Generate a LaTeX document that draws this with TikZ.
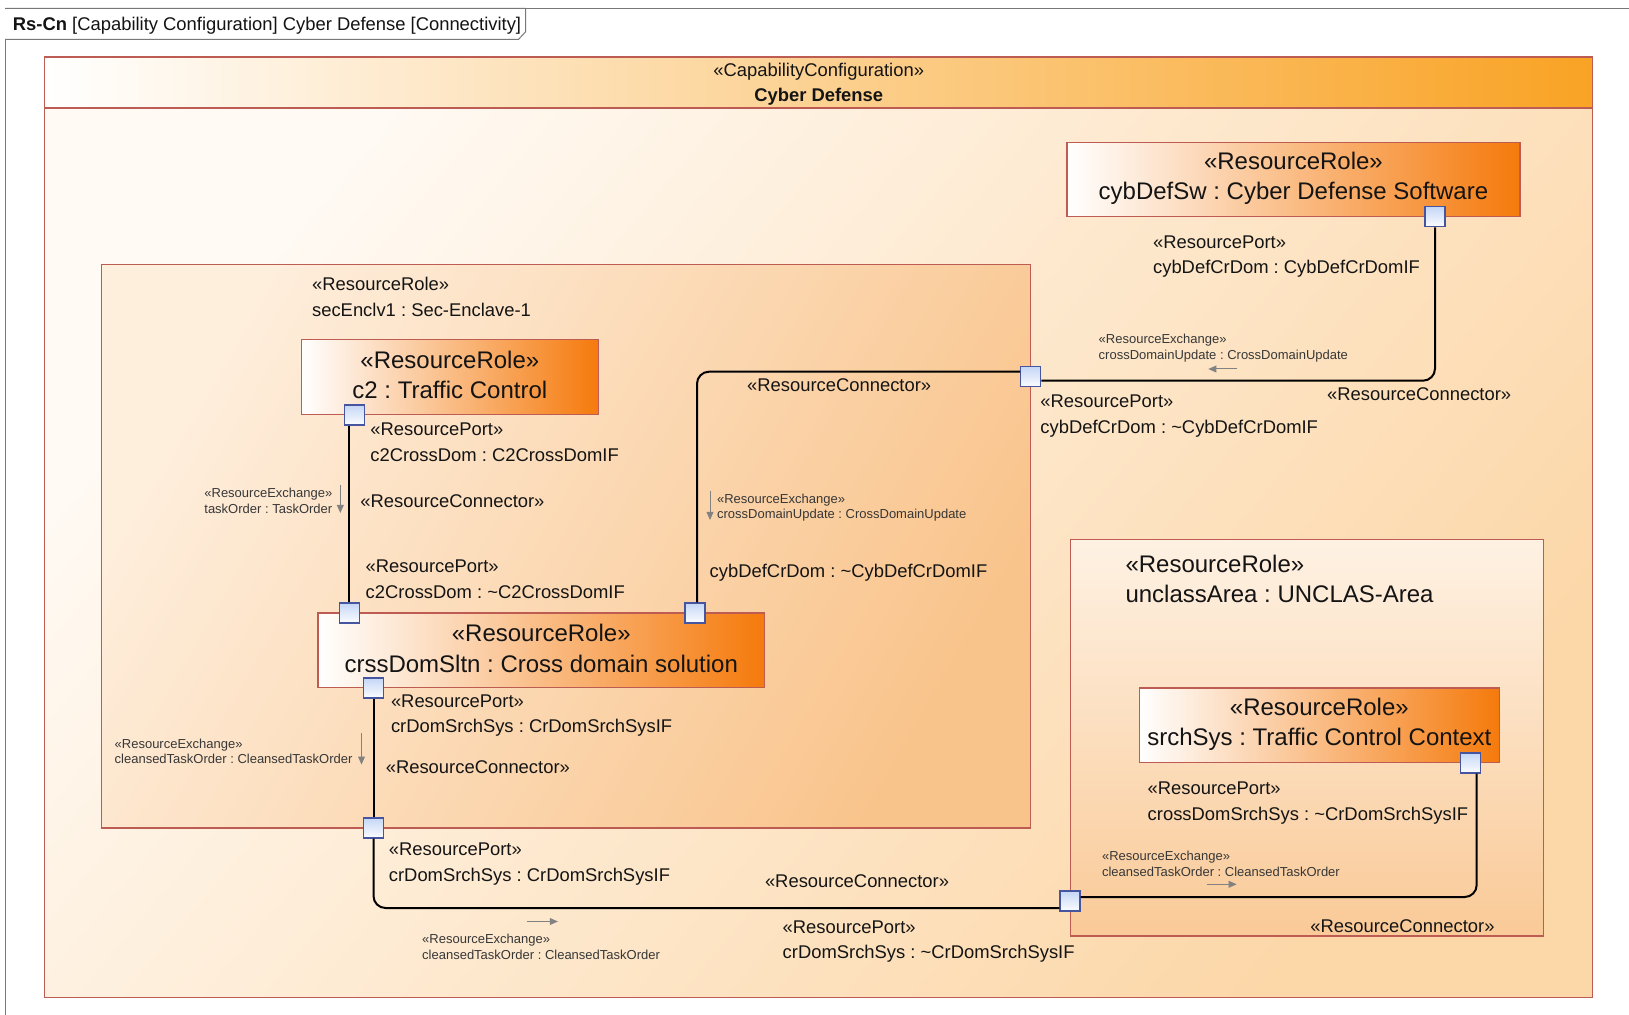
\documentclass[tikz,border=0pt]{standalone}
\usepackage{fontspec}
\setmainfont{Liberation Sans}
\usetikzlibrary{arrows.meta,calc,fit}
\frenchspacing
\definecolor{bord}{RGB}{188,92,82}
\definecolor{rorange}{RGB}{245,122,12}
\definecolor{rmid}{RGB}{251,186,122}
\definecolor{hdrorange}{RGB}{249,163,36}
\definecolor{hdrmid}{RGB}{253,205,140}
\definecolor{capA}{RGB}{255,250,244}
\definecolor{capB}{RGB}{252,215,168}
\definecolor{encA}{RGB}{254,238,220}
\definecolor{encB}{RGB}{249,196,140}
\definecolor{portbd}{RGB}{70,85,160}
\definecolor{portA}{RGB}{196,214,246}
\definecolor{txt}{RGB}{20,20,20}
\definecolor{exgray}{RGB}{130,130,130}
\definecolor{framegray}{RGB}{120,120,120}
\newcommand{\fRole}{\fontsize{12}{15.2}\selectfont}
\newcommand{\fPort}{\fontsize{9.2}{12.75}\selectfont}
\newcommand{\fEncl}{\fontsize{9.2}{13}\selectfont}
\newcommand{\fArea}{\fontsize{12}{15}\selectfont}
\newcommand{\fExch}{\fontsize{6.5}{7.8}\selectfont}
\newcommand{\fHead}{\fontsize{9.2}{12.5}\selectfont}
\begin{document}
\begin{tikzpicture}[x=0.5pt,y=-0.5pt,
  container/.style={draw=bord, line width=0.6pt, inner sep=0pt, top color=encA, bottom color=encB, shading angle=60},
  rolebox/.style={draw=bord, line width=0.6pt, inner sep=0pt, left color=white, middle color=rmid, right color=rorange, align=center, font=\fRole, text=txt},
  roletext/.style={font=\fRole, align=center, text=txt, inner sep=0pt},
  port/.style={rectangle, draw=portbd, line width=0.6pt, top color=portA, bottom color=white!95!portA, minimum size=10pt, inner sep=0pt},
  conn/.style={draw=black, line width=1pt, rounded corners=6pt},
  xarrow/.style={draw=exgray, line width=0.5pt, -{Triangle[length=4pt,width=3.4pt]}},
  lbl/.style={anchor=west, inner sep=0pt, align=left, font=\fPort, text=txt},
  xlbl/.style={anchor=west, inner sep=0pt, align=left, font=\fExch, text=txt!85!white},
]
\useasboundingbox (0,0) rectangle (1629,1015);
\fill[white] (0,0) rectangle (1629,1015);
% outer diagram frame
\begin{scope}
\clip (0,0) rectangle (1629,1015);
\draw[framegray, line width=0.5pt] (5.2,8.3) rectangle (1700,1100);
\end{scope}
\draw[framegray, line width=0.5pt, fill=white] (5.2,8.3) -- (525.7,8.3) -- (525.7,31.7) -- (518.6,39.3) -- (5.2,39.3);
\node[anchor=west, inner sep=0pt, font=\fHead, text=txt] (title) at (12.5,25.5) {\textbf{Rs-Cn} [Capability Configuration] Cyber Defense [Connectivity]};

% capability configuration
\node[draw=bord, line width=0.6pt, inner sep=0pt, top color=capA, bottom color=capB, shading angle=50, fit={(44.7,108) (1592.6,997.3)}] (capbody) {};
\node[draw=bord, line width=0.6pt, inner sep=0pt, left color=white, middle color=hdrmid, right color=hdrorange, fit={(44.7,57.1) (1592.6,108)}] (caphead) {};
\node[font=\fHead, align=center, text=txt, inner sep=0pt] (captext) at (818.7,84) {«CapabilityConfiguration»\\\textbf{Cyber Defense}};

% containers
\node[container, fit={(101.8,264.9) (1030.6,828)}] (secEncl) {};
\node[lbl, font=\fEncl] (secEnclLbl) at (311.7,296.6) {«ResourceRole»\\secEnclv1 : Sec-Enclave-1};
\node[container, top color=encA!80!white, bottom color=encB!90!white, fit={(1070.1,539.2) (1543.6,936)}] (unclass) {};
\node[lbl, font=\fArea] (unclassLbl) at (1125.1,579.2) {«ResourceRole»\\unclassArea : UNCLAS-Area};

% role boxes
\node[rolebox, fit={(301.3,339.7) (598.4,414.5)}] (c2) {};
\node[roletext] (c2t) at ($(c2.center)+(0,-2)$) {«ResourceRole»\\c2 : Traffic Control};
\node[rolebox, fit={(317.9,613) (764.6,687.8)}] (cds) {};
\node[roletext] (cdst) at ($(cds.center)+(0,-2)$) {«ResourceRole»\\crssDomSltn : Cross domain solution};
\node[rolebox, fit={(1067,142.3) (1519.9,216.5)}] (cyb) {};
\node[roletext] (cybt) at ($(cyb.center)+(0,-1)$) {«ResourceRole»\\cybDefSw : Cyber Defense Software};
\node[rolebox, fit={(1139.5,688) (1499.2,762.6)}] (srch) {};
\node[roletext] (srcht) at ($(srch.center)+(0,-1)$) {«ResourceRole»\\srchSys : Traffic Control Context};

% ports
\node[port] (p1) at (354.7,415) {};
\node[port] (p2) at (349.3,613) {};
\node[port] (p3) at (695,613) {};
\node[port] (p4) at (1030.7,376.7) {};
\node[port] (p5) at (1435,216.7) {};
\node[port] (p6) at (373.5,688) {};
\node[port] (p7) at (373.5,828) {};
\node[port] (p8) at (1070,901) {};
\node[port] (p9) at (1470.7,763) {};

% connectors
\draw[conn] (p1.south -| p2) -- (p2.north);
\draw[conn] ($(p3.north)+(2,0)$) |- ($(p4.west)+(0,-5)$);
\draw[conn] ($(p4.east)+(0,4)$) -| (p5.south);
\draw[conn] (p6.south) -- (p7.north);
\draw[conn] (p7.south) |- ($(p8.west)+(0,7)$);
\draw[conn] ($(p8.east)+(0,-4)$) -| ($(p9.south)+(6,0)$);

% port labels
\node[lbl] (l1) at (370,442.5) {«ResourcePort»\\c2CrossDom : C2CrossDomIF};
\node[lbl] (l2) at (365.3,579.5) {«ResourcePort»\\c2CrossDom : \textasciitilde C2CrossDomIF};
\node[lbl] (l3) at (390.6,715.8) {«ResourcePort»\\crDomSrchSys : CrDomSrchSysIF};
\node[lbl] (l4) at (388.5,864) {«ResourcePort»\\crDomSrchSys : CrDomSrchSysIF};
\node[lbl] (l5) at (782.3,941.5) {«ResourcePort»\\crDomSrchSys : \textasciitilde CrDomSrchSysIF};
\node[lbl] (l6) at (1040,416) {«ResourcePort»\\cybDefCrDom : \textasciitilde CybDefCrDomIF};
\node[lbl] (l7) at (1152.7,256.5) {«ResourcePort»\\cybDefCrDom : CybDefCrDomIF};
\node[lbl] (l8) at (1147.3,803) {«ResourcePort»\\crossDomSrchSys : \textasciitilde CrDomSrchSysIF};
\node[lbl] (l9) at (709.3,573) {cybDefCrDom : \textasciitilde CybDefCrDomIF};

% connector labels
\node[lbl] (k1) at (360,501) {«ResourceConnector»};
\node[lbl] (k2) at (746.7,385) {«ResourceConnector»};
\node[lbl] (k3) at (1326.7,394) {«ResourceConnector»};
\node[lbl] (k4) at (385.4,766.7) {«ResourceConnector»};
\node[lbl] (k5) at (764.6,881) {«ResourceConnector»};
\node[lbl] (k6) at (1310,926) {«ResourceConnector»};

% resource exchanges
\node[xlbl] (x1) at (204,501) {«ResourceExchange»\\taskOrder : TaskOrder};
\coordinate (x1a) at (340.3,485); \coordinate (x1b) at (340.3,513);
\draw[xarrow] (x1a) -- (x1b);
\node[xlbl] (x2) at (716.7,507.5) {«ResourceExchange»\\crossDomainUpdate : CrossDomainUpdate};
\coordinate (x2a) at (710,490.7); \coordinate (x2b) at (710,520);
\draw[xarrow] (x2a) -- (x2b);
\node[xlbl] (x3) at (1098.3,348) {«ResourceExchange»\\crossDomainUpdate : CrossDomainUpdate};
\coordinate (x3a) at (1237.3,369); \coordinate (x3b) at (1208.3,369);
\draw[xarrow] (x3a) -- (x3b);
\node[xlbl] (x4) at (114.3,751.3) {«ResourceExchange»\\cleansedTaskOrder : CleansedTaskOrder};
\coordinate (x4a) at (361.5,733.5); \coordinate (x4b) at (361.5,764.6);
\draw[xarrow] (x4a) -- (x4b);
\node[xlbl] (x5) at (421.8,946.6) {«ResourceExchange»\\cleansedTaskOrder : CleansedTaskOrder};
\coordinate (x5a) at (526.7,921.5); \coordinate (x5b) at (557.9,921.5);
\draw[xarrow] (x5a) -- (x5b);
\node[xlbl] (x6) at (1101.7,863.6) {«ResourceExchange»\\cleansedTaskOrder : CleansedTaskOrder};
\coordinate (x6a) at (1206.7,884.3); \coordinate (x6b) at (1236.7,884.3);
\draw[xarrow] (x6a) -- (x6b);
\end{tikzpicture}
\end{document}
